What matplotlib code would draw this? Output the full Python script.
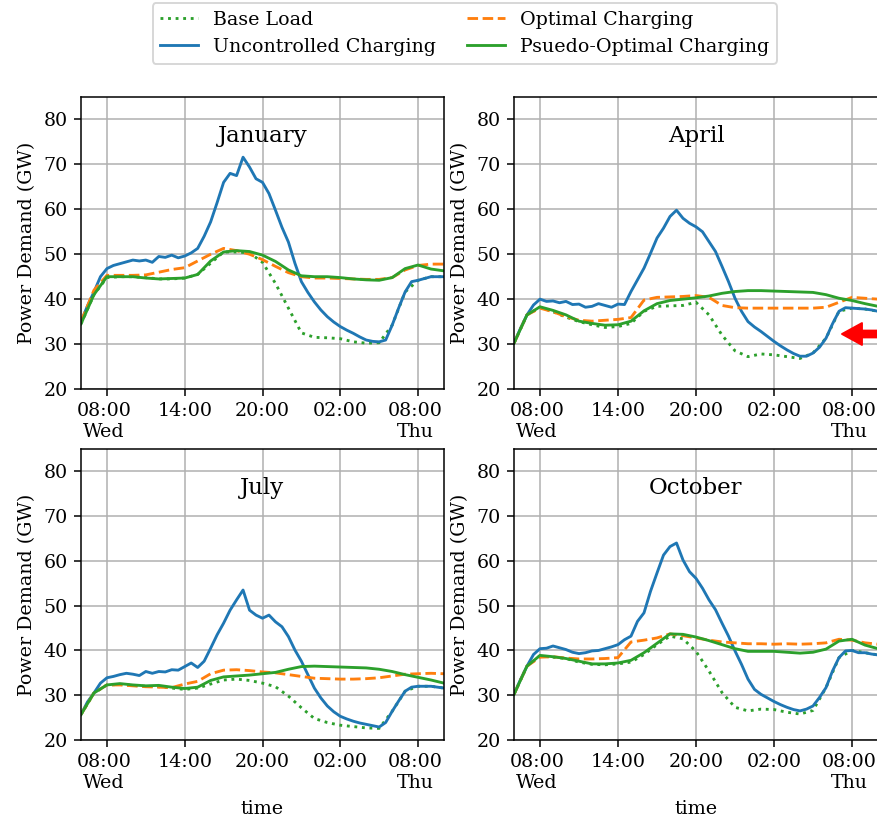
import numpy as np
import matplotlib
matplotlib.use("Agg")
from matplotlib import pyplot as plt
from matplotlib import transforms

plt.rcParams['font.family'] = ['DejaVu Serif']

# hours since Wed 00:00 (06:00 Wed -> 10:00 Thu)
hours = np.arange(6, 35, 1.0)          # hourly profiles
hours_fine = np.arange(6, 34.5, 0.5)   # half-hourly uncontrolled charging

months = ["January", "April", "July", "October"]

base_jan = [34.5, 41, 44.8, 45, 45, 44.8, 44.5, 44.5, 44.7, 45.5, 48, 50.5, 50.5, 50.3, 48.2,
            43.5, 38, 32.5, 31.5, 31.4, 31.2, 30.5, 30.2, 30.3, 34.2, 41.6, 44.2, 45, 45]
opt_jan = [35, 42, 45.3, 45.3, 45.3, 45.4, 46, 46.6, 47, 48.5, 50, 51.3, 50.8, 50, 48.8,
           47.3, 45.9, 45, 44.7, 44.7, 44.6, 44.5, 44.4, 44.4, 44.8, 46.5, 47.5, 47.8, 47.8]
pseudo_jan = [34.5, 41, 45, 45, 45, 44.7, 44.5, 44.6, 44.7, 45.5, 48.5, 50.5, 50.8, 50.6, 49.8,
              48.4, 46.5, 45.2, 45, 45, 44.8, 44.5, 44.3, 44.2, 44.8, 46.8, 47.6, 46.7, 46.3]
unc_jan = [35, 38.5, 41.6, 45, 46.8, 47.5, 47.9, 48.3, 48.7, 48.5, 48.7, 48.2, 49.5, 49.3,
           49.8, 49.2, 49.6, 50.3, 51.3, 54, 57.2, 61.5, 66, 68, 67.5, 71.6, 69.4, 66.8, 66,
           63.5, 59.8, 56, 52.7, 48, 43.9, 41.5, 39.4, 37.6, 36.1, 34.9, 33.9, 33.1, 32.4,
           31.6, 30.9, 30.6, 30.5, 30.9, 34.2, 38, 41.6, 43.9, 44.2, 44.6, 45, 45, 45]

base_apr = [30.2, 36.5, 38.2, 37.2, 36, 35, 34.3, 33.7, 33.9, 34.6, 37.3, 38.4, 38.5, 38.6, 39.3,
            36.5, 32, 28.5, 27.2, 27.8, 27.6, 27.2, 26.8, 28, 31.3, 37.3, 38, 37.8, 37.3]
opt_apr = [30.2, 36.5, 38, 37.2, 36.1, 35.3, 35.1, 35.3, 35.5, 35.9, 39.8, 40.4, 40.5, 40.6, 40.8,
           40.4, 38.6, 38.1, 38, 38, 38, 38, 38, 38, 38.2, 39.3, 40.4, 40.2, 40]
pseudo_apr = [30.2, 36.5, 38.3, 37.5, 36.5, 35.1, 34.6, 34.2, 34.3, 35.1, 37.4, 39, 39.7, 40, 40.3,
              40.7, 41.3, 41.7, 41.9, 41.9, 41.8, 41.7, 41.6, 41.5, 41, 40.2, 39.7, 39, 38.4]
unc_apr = [30.2, 33.5, 36.5, 38.7, 40, 39.5, 39.6, 39.2, 39.5, 38.8, 38.9, 38.2, 38.4, 39,
           38.6, 38.2, 38.9, 38.8, 41.7, 44.3, 46.9, 50.2, 53.6, 55.8, 58.4, 59.8, 58, 56.9,
           56.1, 55, 52.8, 50.6, 47.3, 43.9, 40.2, 37.3, 35, 33.8, 32.8, 31.7, 30.6, 29.6, 28.7,
           27.9, 27.3, 27.3, 28, 29.3, 31.3, 34.5, 37.3, 38.1, 38, 37.9, 37.8, 37.6, 37.3]

base_jul = [25.7, 30.5, 32.3, 32.4, 32.2, 32, 31.9, 31.6, 31.3, 31.6, 32.5, 33.4, 33.6, 33.3, 32.7,
            31.9, 29.8, 27.2, 24.8, 23.9, 23.3, 23, 22.7, 22.6, 26.4, 30.9, 32, 32, 31.6]
opt_jul = [25.7, 30.5, 32.3, 32.3, 32.1, 31.9, 31.8, 31.7, 32.5, 33.1, 34.8, 35.6, 35.7, 35.5, 35.2,
           35, 34.6, 34.2, 33.8, 33.7, 33.6, 33.6, 33.7, 33.9, 34.3, 34.7, 34.8, 34.9, 34.8]
pseudo_jul = [25.7, 30.5, 32.3, 32.6, 32.3, 32.1, 32.2, 31.8, 31.5, 31.8, 33.3, 34.1, 34.3, 34.5, 34.8,
              35.1, 35.8, 36.4, 36.5, 36.4, 36.3, 36.2, 36.1, 35.8, 35.3, 34.6, 34, 33.4, 32.7]
unc_jul = [25.7, 28.5, 30.5, 32.7, 33.9, 34.2, 34.6, 34.9, 34.7, 34.4, 35.3, 34.9, 35.3, 35.2,
           35.7, 35.6, 36.4, 37.2, 36.2, 37.6, 40.5, 43.5, 46.1, 49, 51.3, 53.5, 49, 47.9,
           47.2, 47.9, 46.4, 45.3, 43.1, 40.1, 37.6, 34.6, 31.6, 29.4, 27.6, 26.3, 25.3, 24.7,
           24.2, 23.8, 23.5, 23.2, 22.9, 23.9, 26.4, 28.7, 30.9, 31.8, 32, 32, 32, 31.8, 31.6]

base_oct = [30.2, 36.5, 38.8, 38.5, 38.2, 37.4, 36.9, 36.8, 37, 37.4, 39.1, 41.3, 43.2, 42.6, 39.8,
            35.4, 30.6, 27.3, 26.5, 26.9, 26.8, 26.2, 25.8, 26.6, 31.7, 38.4, 40, 39.5, 39]
opt_oct = [30.2, 36.5, 38.5, 38.6, 38.3, 38.1, 38.1, 38.2, 38.4, 41.9, 42.3, 42.8, 43.7, 43.3, 42.8,
           42.3, 41.9, 41.7, 41.5, 41.5, 41.4, 41.5, 41.4, 41.5, 41.7, 42.5, 42.3, 41.7, 41.4]
pseudo_oct = [30.2, 36.5, 38.9, 38.6, 38.2, 37.6, 37, 37, 37.2, 37.8, 39.5, 41.6, 43.7, 43.6, 43,
              42.2, 41.3, 40.4, 39.8, 39.8, 39.8, 39.6, 39.4, 39.6, 40.3, 42.1, 42.5, 41.2, 40.4]
unc_oct = [30.2, 33.5, 36.5, 39.1, 40.4, 40.5, 41, 40.6, 40.2, 39.6, 39.3, 39.5, 39.9, 40,
           40.4, 40.8, 41.3, 42.4, 43.2, 46.5, 48.4, 53.2, 57.3, 61.3, 63.2, 64, 60.2, 57.6,
           56.1, 53.9, 51.3, 49.1, 46.1, 43.2, 39.9, 36.9, 33.6, 31.3, 30.2, 29.4, 28.6, 27.9,
           27.3, 26.8, 26.5, 26.9, 27.6, 29.5, 31.7, 35.4, 38.4, 39.9, 40, 39.5, 39.5, 39.2, 39]

base_all = [base_jan, base_apr, base_jul, base_oct]
opt_all = [opt_jan, opt_apr, opt_jul, opt_oct]
pseudo_all = [pseudo_jan, pseudo_apr, pseudo_jul, pseudo_oct]
unc_all = [unc_jan, unc_apr, unc_jul, unc_oct]

tick_hours = [8, 14, 20, 26, 32]
tick_labels = ["08:00\nWed", "14:00", "20:00", "02:00", "08:00\nThu"]

W, H = 877, 823
DPI = 137
fig = plt.figure(figsize=(W / DPI, H / DPI), dpi=DPI)

# axes boxes in pixels: (left, top, width, height)
boxes = [(81, 97, 363, 292), (514, 97, 364, 292),
         (81, 449, 363, 291), (514, 449, 364, 291)]

# the two-line 08:00 labels sit a touch left of their tick
nudge = transforms.ScaledTranslation(-3 / DPI, 0, fig.dpi_scale_trans)

axes = []
for i, (l, t, w, h) in enumerate(boxes):
    ax = fig.add_axes([l / W, 1 - (t + h) / H, w / W, h / H])
    axes.append(ax)
    ax.plot(hours, base_all[i], ':', color='C2', label='Base Load')
    ax.plot(hours_fine, unc_all[i], '-', color='C0', label='Uncontrolled Charging')
    ax.plot(hours, opt_all[i], '--', color='C1', label='Optimal Charging')
    ax.plot(hours, pseudo_all[i], '-', color='C2', label='Psuedo-Optimal Charging')
    ax.set_xlim(6, 34)
    ax.set_ylim(20, 85)
    ax.set_yticks(range(20, 90, 10))
    ax.set_xticks(tick_hours)
    ax.set_xticklabels(tick_labels)
    for lab in ax.get_xticklabels():
        if "\n" in lab.get_text():
            lab.set_transform(lab.get_transform() + nudge)
    ax.grid(True)
    ax.set_axisbelow(True)
    ax.set_ylabel("Power Demand (GW)")
    ax.text(0.5, 0.866, months[i], transform=ax.transAxes, ha='center', va='center', fontsize=12)
    if i >= 2:
        ax.set_xlabel("time")

handles, labels = axes[0].get_legend_handles_labels()
fig.legend(handles, labels, loc='upper center', bbox_to_anchor=(0.53, 1.008), ncol=2,
           columnspacing=1.6)

# red marker pointing at the April morning trough
axes[1].annotate('', xy=(842 / W, 1 - 334 / H), xytext=(1.0, 1 - 334 / H),
                 xycoords='figure fraction', textcoords='figure fraction',
                 arrowprops=dict(facecolor='red', edgecolor='red', width=3.6, headwidth=11.5, headlength=10.5),
                 annotation_clip=False)

fig.savefig("out.png", dpi=DPI)
